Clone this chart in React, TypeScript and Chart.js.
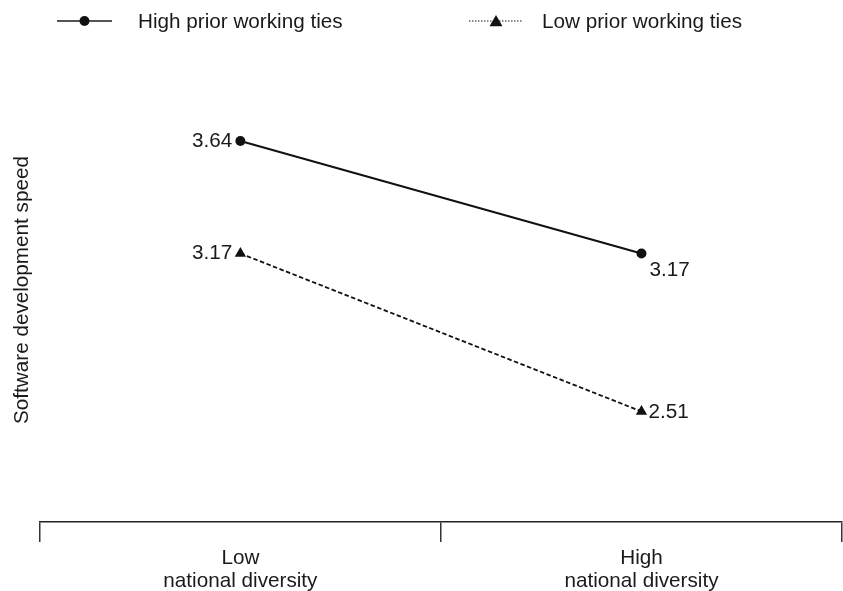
import React, { useEffect, useRef } from "react";
import { Chart, registerables } from "chart.js";

Chart.register(...registerables);

// ---- data ----
const categories: string[][] = [
  ["Low", "national diversity"],
  ["High", "national diversity"],
];
const seriesNames = ["High prior working ties", "Low prior working ties"];
const highTies = [3.64, 3.17];
const lowTies = [3.17, 2.51];
const yTitle = "Software development speed";

// ---- style ----
const FONT = "'Liberation Sans', Arial, Helvetica, sans-serif";
const TEXT = "#1a1a1a";
const FONT_SIZE = 20.7;

// label placement per dataset / point: [align, dx, dy]
const labelPlacement: [CanvasTextAlign, number, number][][] = [
  [
    ["right", -8, 0],
    ["left", 8, 17],
  ],
  [
    ["right", -8, 0],
    ["left", 7, 1],
  ],
];

// legend item layout: marker line start/end, text start
const legendLayout = [
  { x0: 57, x1: 112, tx: 138 },
  { x0: 469, x1: 523, tx: 542 },
];
const LEGEND_Y = 21;

function drawMarker(ctx: CanvasRenderingContext2D, style: string, x: number, y: number, r: number) {
  ctx.beginPath();
  if (style === "triangle") {
    for (let k = 0; k < 3; k++) {
      const a = (k * 2 * Math.PI) / 3;
      const px = x + Math.sin(a) * r;
      const py = y - Math.cos(a) * r;
      if (k === 0) ctx.moveTo(px, py);
      else ctx.lineTo(px, py);
    }
    ctx.closePath();
  } else {
    ctx.arc(x, y, r, 0, Math.PI * 2);
  }
  ctx.fill();
}

const legendPlugin = {
  id: "customLegend",
  afterDraw(chart: any) {
    const ctx: CanvasRenderingContext2D = chart.ctx;
    chart.data.datasets.forEach((ds: any, i: number) => {
      const it = legendLayout[i];
      if (!it) return;
      ctx.save();
      ctx.strokeStyle = i === 0 ? "#555" : "#666";
      ctx.lineWidth = i === 0 ? 2 : 1.3;
      ctx.setLineDash(i === 0 ? [] : [1.5, 1.5]);
      ctx.beginPath();
      ctx.moveTo(it.x0, LEGEND_Y);
      ctx.lineTo(it.x1, LEGEND_Y);
      ctx.stroke();
      ctx.setLineDash([]);
      ctx.fillStyle = "#111";
      const cx = (it.x0 + it.x1) / 2;
      if (ds.pointStyle === "triangle") drawMarker(ctx, "triangle", cx, LEGEND_Y + 1.5, 7.5);
      else drawMarker(ctx, "circle", cx, LEGEND_Y, 5);
      ctx.fillStyle = TEXT;
      ctx.font = `${FONT_SIZE}px ${FONT}`;
      ctx.textAlign = "left";
      ctx.textBaseline = "middle";
      ctx.fillText(ds.label, it.tx, LEGEND_Y + 1);
      ctx.restore();
    });
  },
};

const valueLabelPlugin = {
  id: "valueLabels",
  afterDatasetsDraw(chart: any) {
    const ctx: CanvasRenderingContext2D = chart.ctx;
    chart.data.datasets.forEach((ds: any, i: number) => {
      const meta = chart.getDatasetMeta(i);
      meta.data.forEach((pt: any, j: number) => {
        const pl = labelPlacement[i][j];
        ctx.save();
        ctx.fillStyle = TEXT;
        ctx.font = `${FONT_SIZE}px ${FONT}`;
        ctx.textAlign = pl[0];
        ctx.textBaseline = "middle";
        ctx.fillText(Number(ds.data[j]).toFixed(2), pt.x + pl[1], pt.y + pl[2]);
        ctx.restore();
      });
    });
  },
};

export default function App() {
  const ref = useRef<HTMLCanvasElement | null>(null);

  useEffect(() => {
    if (!ref.current) return;
    const chart = new Chart(ref.current, {
      type: "line",
      data: {
        labels: categories as any,
        datasets: [
          {
            label: seriesNames[0],
            data: highTies,
            borderColor: "#111",
            backgroundColor: "#111",
            borderWidth: 2,
            pointStyle: "circle",
            pointRadius: 5,
            pointBorderWidth: 0,
            pointBackgroundColor: "#111",
            tension: 0,
            clip: false as any,
          },
          {
            label: seriesNames[1],
            data: lowTies,
            borderColor: "#111",
            backgroundColor: "#111",
            borderWidth: 1.8,
            borderDash: [4.5, 2.5],
            pointStyle: "triangle",
            pointRadius: 6.5,
            pointBorderWidth: 0,
            pointBackgroundColor: "#111",
            tension: 0,
            clip: false as any,
          },
        ],
      },
      options: {
        responsive: false,
        animation: false,
        layout: { autoPadding: false, padding: { top: 58, left: 6, right: 1, bottom: 0 } },
        plugins: {
          legend: { display: false },
          tooltip: { enabled: false },
        },
        scales: {
          x: {
            type: "category",
            offset: true,
            afterFit: (scale: any) => {
              scale.height = 69;
              scale.paddingLeft = 0;
              scale.paddingRight = 0;
              scale.paddingTop = 0;
              scale.paddingBottom = 0;
            },
            grid: {
              display: true,
              drawOnChartArea: false,
              drawTicks: true,
              tickLength: 20,
              offset: true,
              color: "#333",
              lineWidth: 1.5,
            },
            border: { display: true, color: "#222", width: 1.5 },
            ticks: {
              color: TEXT,
              font: { family: FONT, size: FONT_SIZE, lineHeight: "23px" as any },
              padding: 5,
              maxRotation: 0,
              autoSkip: false,
            },
          },
          y: {
            min: 2.048,
            max: 3.987,
            afterFit: (scale: any) => {
              scale.paddingLeft = 0;
              scale.paddingRight = 0;
              scale.paddingTop = 0;
              scale.paddingBottom = 0;
            },
            ticks: { display: false },
            grid: { display: false, drawTicks: false },
            border: { display: false },
            title: {
              display: true,
              text: yTitle,
              color: TEXT,
              font: { family: FONT, size: FONT_SIZE, lineHeight: 1.2 },
              padding: { top: 4, bottom: 5 },
            },
          },
        },
      },
      plugins: [legendPlugin, valueLabelPlugin],
    });
    return () => chart.destroy();
  }, []);

  return (
    <div style={{ position: "fixed", left: 0, top: 0, width: 843, height: 591, background: "#fff" }}>
      <canvas ref={ref} width={843} height={591} style={{ display: "block" }} />
    </div>
  );
}
